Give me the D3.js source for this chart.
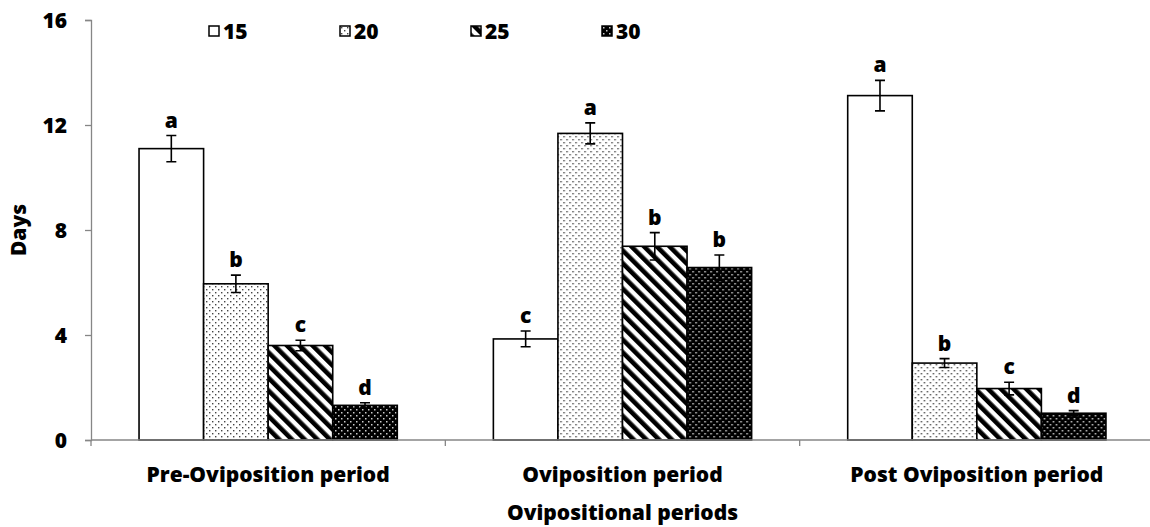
<!DOCTYPE html>
<html>
<head>
<meta charset="utf-8">
<script src="https://cdn.jsdelivr.net/npm/d3@7"></script>
<style>
  body { margin: 0; background: #fff; }
  text { font-family: "Open Sans", Lato, sans-serif; font-weight: 800; fill: #000; }
</style>
</head>
<body>
<div id="chart"></div>
<script>
// categories on the x axis
const periods = ["Pre-Oviposition period", "Oviposition period", "Post Oviposition period"];
// temperature series
const temps = ["15", "20", "25", "30"];
// mean days per temperature, one array per series (in period order)
const days15 = [11.1, 3.85, 13.12];
const days20 = [5.95, 11.68, 2.93];
const days25 = [3.6, 7.38, 1.96];
const days30 = [1.32, 6.57, 1.02];
// standard errors
const se15 = [0.5, 0.3, 0.58];
const se20 = [0.33, 0.4, 0.17];
const se25 = [0.2, 0.52, 0.24];
const se30 = [0.1, 0.48, 0.1];
// significance letters
const letters15 = ["a", "c", "a"];
const letters20 = ["b", "a", "b"];
const letters25 = ["c", "b", "c"];
const letters30 = ["d", "b", "d"];
const yTicks = [0, 4, 8, 12, 16];

const values = [days15, days20, days25, days30];
const errors = [se15, se20, se25, se30];
const letters = [letters15, letters20, letters25, letters30];

const width = 1150, height = 527;
const margin = {top: 20, right: -4, bottom: 87, left: 91};

const svg = d3.select("#chart").append("svg")
  .attr("width", width)
  .attr("height", height);

//Fill patterns, one per temperature
const defs = svg.append("defs");

let pDots = defs.append("pattern").attr("id", "p20")
  .attr("patternUnits", "userSpaceOnUse").attr("width", 6).attr("height", 6);
pDots.append("rect").attr("width", 6).attr("height", 6).attr("fill", "#fff");
pDots.append("rect").attr("x", 1).attr("y", 1).attr("width", 1.4).attr("height", 1.4).attr("fill", "#444");
pDots.append("rect").attr("x", 4).attr("y", 4).attr("width", 1.4).attr("height", 1.4).attr("fill", "#444");

let pStripe = defs.append("pattern").attr("id", "p25")
  .attr("patternUnits", "userSpaceOnUse").attr("width", 9).attr("height", 9)
  .attr("patternTransform", "rotate(-45)");
pStripe.append("rect").attr("width", 9).attr("height", 9).attr("fill", "#fff");
pStripe.append("rect").attr("width", 4.6).attr("height", 9).attr("fill", "#000");

let pDark = defs.append("pattern").attr("id", "p30")
  .attr("patternUnits", "userSpaceOnUse").attr("width", 6).attr("height", 6);
pDark.append("rect").attr("width", 6).attr("height", 6).attr("fill", "#000");
pDark.append("rect").attr("x", 1).attr("y", 1).attr("width", 1.5).attr("height", 1.5).attr("fill", "#ccc");
pDark.append("rect").attr("x", 4).attr("y", 4).attr("width", 1.5).attr("height", 1.5).attr("fill", "#ccc");

const fills = ["#fff", "url(#p20)", "url(#p25)", "url(#p30)"];

//Scales
const x0 = d3.scaleBand()
  .domain(periods)
  .range([margin.left, width - margin.right])
  .padding(0);

const x1 = d3.scaleBand()
  .domain(temps)
  .range([0, x0.bandwidth()])
  .paddingInner(0)
  .paddingOuter(0.744);

const y = d3.scaleLinear()
  .domain([0, 16])
  .range([height - margin.bottom, margin.top]);

//Y axis
const yAxis = svg.append("g")
  .attr("transform", "translate(" + margin.left + ",0)")
  .call(d3.axisLeft(y).tickValues(yTicks).tickSize(6).tickPadding(18).tickFormat(d3.format("d")));
yAxis.select(".domain").attr("stroke", "#868686").attr("stroke-width", 1.3);
yAxis.selectAll(".tick line").attr("stroke", "#868686").attr("stroke-width", 1.3);
yAxis.selectAll(".tick text").style("font-size", "21px").attr("dy", "0.36em");

//Bars
const groups = svg.selectAll(".period")
  .data(periods)
  .enter().append("g")
  .attr("class", "period")
  .attr("transform", d => "translate(" + x0(d) + ",0)");

const bars = groups.selectAll(".bar")
  .data((d, i) => temps.map((t, j) => ({
    temp: t, s: j, value: values[j][i], se: errors[j][i], letter: letters[j][i]
  })))
  .enter().append("g")
  .attr("class", "bar");

bars.append("rect")
  .attr("x", d => x1(d.temp))
  .attr("width", x1.bandwidth())
  .attr("y", d => y(d.value))
  .attr("height", d => y(0) - y(d.value))
  .attr("fill", d => fills[d.s])
  .attr("stroke", "#000")
  .attr("stroke-width", 1.6);

//Error bars
const cap = 5;
bars.append("path")
  .attr("d", d => {
    let cx = x1(d.temp) + x1.bandwidth() / 2,
      y1 = y(d.value + d.se),
      y2 = y(d.value - d.se);
    return "M" + (cx - cap) + "," + y1 + "H" + (cx + cap) +
      "M" + cx + "," + y1 + "V" + y2 +
      "M" + (cx - cap) + "," + y2 + "H" + (cx + cap);
  })
  .attr("stroke", "#000")
  .attr("stroke-width", 1.6)
  .attr("fill", "none");

//Letters over the error bars
bars.append("text")
  .attr("x", d => x1(d.temp) + x1.bandwidth() / 2)
  .attr("y", d => y(d.value + d.se) - 8)
  .attr("text-anchor", "middle")
  .style("font-size", "21px")
  .text(d => d.letter);

//X axis
const xAxis = svg.append("g")
  .attr("transform", "translate(0," + y(0) + ")");
xAxis.append("line")
  .attr("x1", margin.left).attr("x2", width)
  .attr("stroke", "#868686").attr("stroke-width", 1.3);
xAxis.selectAll(".sep")
  .data(periods)
  .enter().append("line")
  .attr("class", "sep")
  .attr("x1", d => x0(d)).attr("x2", d => x0(d))
  .attr("y1", 0).attr("y2", 6)
  .attr("stroke", "#868686").attr("stroke-width", 1.3);
xAxis.selectAll(".cat")
  .data(periods)
  .enter().append("text")
  .attr("class", "cat")
  .attr("x", d => x0(d) + x0.bandwidth() / 2)
  .attr("y", 42)
  .attr("text-anchor", "middle")
  .style("font-size", "21px")
  .text(d => d);

//Axis titles
svg.append("text")
  .attr("x", (margin.left + width - margin.right) / 2)
  .attr("y", 520)
  .attr("text-anchor", "middle")
  .style("font-size", "21px")
  .text("Ovipositional periods");

svg.append("text")
  .attr("transform", "translate(26," + y(8) + ") rotate(-90)")
  .attr("text-anchor", "middle")
  .style("font-size", "21px")
  .text("Days");

//Legend
const legend = svg.selectAll(".legend")
  .data(temps)
  .enter().append("g")
  .attr("class", "legend")
  .attr("transform", (d, i) => "translate(" + (209 + i * 131) + ",26)");
legend.append("rect")
  .attr("width", 10).attr("height", 10)
  .attr("fill", (d, i) => fills[i])
  .attr("stroke", "#000").attr("stroke-width", 1.5);
legend.append("text")
  .attr("x", 14).attr("y", 13)
  .style("font-size", "21px")
  .text(d => d);
</script>
</body>
</html>
